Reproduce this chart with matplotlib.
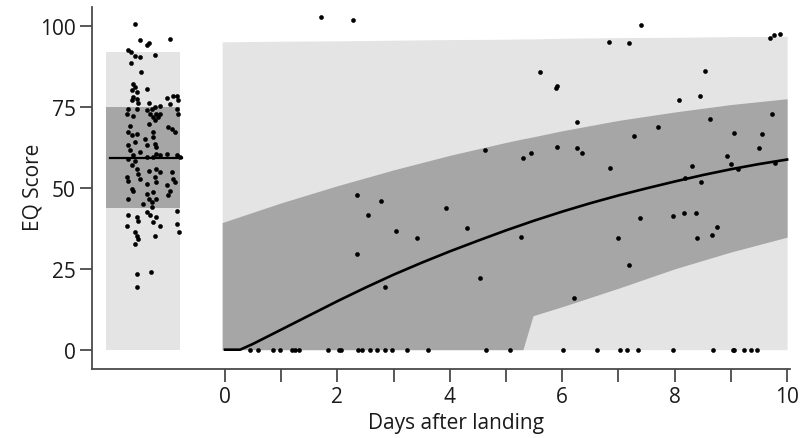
"""EQ score after landing: baseline strip plus fitted recovery curve."""
import matplotlib

matplotlib.use("Agg")
import matplotlib.pyplot as plt  # noqa: E402

plt.rcParams["font.family"] = ["Open Sans", "DejaVu Sans"]

# baseline (pre-flight) scores, jittered strip on the left
base_x = [-1.60, -1.51, -1.36, -1.39, -0.97, -1.72, -1.67, -1.60, -1.51, -1.25,
          -1.67, -1.50, -1.63, -1.60, -1.66, -1.57, -1.39, -1.63, -1.57, -1.66,
          -1.04, -0.92, -0.86, -1.54, -1.36, -1.16, -0.98, -0.83,
          -1.72, -1.75, -1.57, -1.63, -1.39, -1.30, -1.25, -1.33, -1.22, -1.28,
          -1.25, -1.36, -1.19, -1.16, -0.86, -0.83, -1.01, -0.95, -0.89, -1.69,
          -1.72, -1.66, -1.57, -1.60, -1.72, -1.69, -1.63, -1.28, -1.28, -1.25,
          -1.22, -1.42, -1.39, -1.51, -1.22, -1.16, -1.04, -0.86, -0.80, -1.39,
          -1.28, -1.72, -1.60, -1.66, -1.57, -1.54, -1.75, -1.72, -1.51, -1.36,
          -1.22, -1.16, -1.25, -1.22, -1.39, -0.95, -0.92, -0.89, -1.04, -0.98,
          -1.01, -1.66, -1.63, -1.72, -1.39, -1.28, -1.36, -1.30, -1.22, -1.45,
          -0.86, -1.39, -1.30, -1.57, -1.72, -1.33, -1.22, -1.75, -1.54, -1.28,
          -1.16, -0.86, -1.60, -1.57, -1.54, -1.60, -1.25, -0.82, -1.57, -1.32,
          -1.57]
base_y = [100.8, 95.7, 94.9, 94.1, 96.2, 92.6, 92.1, 90.8, 90.5, 91.2,
          88.8, 85.9, 82.3, 81.2, 80.2, 79.7, 80.7, 78.1, 77.6, 77.1,
          77.9, 78.6, 78.3, 76.4, 76.3, 75.5, 76.1, 77.1,
          74.5, 73.0, 74.5, 72.4, 74.0, 74.5, 75.0, 73.0, 73.0, 71.9,
          70.9, 69.9, 71.9, 73.0, 74.5, 73.0, 68.8, 68.3, 67.3, 69.3,
          67.3, 66.3, 66.8, 64.2, 63.2, 61.6, 60.1, 67.3, 65.8, 63.7,
          62.7, 65.2, 63.2, 61.1, 60.6, 60.1, 60.6, 60.1, 59.6, 59.6,
          59.6, 59.0, 58.5, 57.0, 55.9, 54.4, 53.4, 52.3, 52.9, 55.4,
          55.9, 54.9, 53.4, 51.8, 51.3, 54.9, 52.9, 51.8, 50.8, 49.2,
          47.7, 49.8, 49.2, 46.7, 48.2, 48.7, 46.7, 45.6, 46.7, 45.1,
          43.0, 42.5, 44.1, 41.0, 41.5, 41.5, 41.0, 38.4, 39.9, 39.4,
          38.4, 38.9, 36.3, 35.3, 34.3, 32.7, 35.3, 36.3, 23.4, 24.0,
          19.5]
base_box = (-2.11, -0.80)      # x extent of the baseline box
base_range = (0, 92.2)
base_iqr = (43.8, 75.0)
base_median = 59.3

# post-landing observations
day_x = [1.70, 2.27, 5.60, 5.89, 5.91, 6.26, 6.84, 7.18, 7.40, 7.70,
         7.28, 8.08, 8.45, 8.54, 8.63, 9.06, 9.56, 9.74, 9.70, 9.76,
         9.88, 5.90, 6.26, 9.50, 4.63, 2.35, 2.78, 2.55, 3.94, 3.04,
         3.41, 4.31, 2.34, 2.84, 4.54, 5.31, 5.44, 6.36, 6.85, 8.30,
         8.19, 8.47, 8.93, 9.00, 9.13, 9.79, 7.38, 7.97, 8.17, 8.38,
         8.76, 8.67, 8.40, 7.00, 5.27, 7.19, 6.20]
day_y = [102.9, 102.1, 85.9, 81.0, 81.6, 70.4, 95.2, 94.9, 100.3, 69.0,
         66.1, 77.1, 78.3, 86.1, 71.4, 67.0, 66.6, 73.0, 96.4, 97.4,
         97.7, 62.7, 62.5, 62.5, 61.6, 47.9, 46.1, 41.8, 43.9, 36.7,
         34.6, 37.7, 29.6, 19.5, 22.1, 59.3, 60.7, 60.8, 56.3, 56.7,
         53.2, 51.8, 59.8, 57.5, 55.9, 57.8, 40.8, 41.2, 42.3, 42.3,
         37.9, 35.6, 34.6, 34.6, 34.8, 26.2, 16.1]
zero_x = [0.44, 0.58, 0.86, 0.97, 1.19, 1.25, 1.31, 1.84, 2.02, 2.06,
          2.37, 2.43, 2.58, 2.70, 2.84, 2.97, 3.23, 3.62, 4.65, 5.07,
          6.01, 6.61, 7.03, 7.15, 7.35, 7.97, 8.69, 9.03, 9.06, 9.24,
          9.35, 9.46]

# prediction bands
band_x = [-0.05, 0, 1, 2, 3, 4, 5, 5.3, 5.48, 6, 7, 8, 9, 10]
outer_hi = [95.2, 95.2, 95.4, 95.5, 95.7, 95.9, 96.0, 96.1, 96.1, 96.3, 96.5, 96.6, 96.8, 96.9]
inner_hi = [39.3, 39.6, 45.4, 50.7, 55.6, 60.1, 64.1, 65.2, 65.8, 67.7, 70.9, 73.5, 75.8, 77.6]
inner_lo = [0, 0, 0, 0, 0, 0, 0, 0, 10.5, 13.3, 19.0, 25.0, 30.2, 34.8]

# fitted curve
fit_x = [0, 0.27, 0.5, 1, 1.5, 2, 2.5, 3, 3.5, 4, 4.5, 5, 5.5, 6, 6.5, 7,
         7.5, 8, 8.5, 9, 9.5, 10]
fit_y = [0, 0, 1.8, 6.2, 10.6, 15.0, 19.2, 23.2, 26.9, 30.4, 33.7, 36.9,
         39.9, 42.7, 45.3, 47.7, 49.9, 52.0, 54.0, 55.8, 57.4, 58.8]

LIGHT = "#e4e4e4"
DARK = "#a6a6a6"
SPINE = "#4a4a4a"
MS = 2.9

fig = plt.figure(figsize=(8, 4.39), dpi=100)
ax = fig.add_axes([0.1154, 0.157, 0.872, 0.825])

# baseline strip
ax.fill_between(base_box, *base_range, color=LIGHT, lw=0)
ax.fill_between(base_box, *base_iqr, color=DARK, lw=0)
ax.plot([-2.05, -0.77], [base_median] * 2, color="black", lw=1.6)
ax.plot(base_x, base_y, "o", color="black", ms=MS, mew=0.4)

# post-landing
ax.fill_between(band_x, 0, outer_hi, color=LIGHT, lw=0)
ax.fill_between(band_x, inner_lo, inner_hi, color=DARK, lw=0)
ax.plot(fit_x, fit_y, color="black", lw=1.9, solid_joinstyle="round")
ax.plot(day_x, day_y, "o", color="black", ms=MS, mew=0.4)
ax.plot(zero_x, [0] * len(zero_x), "o", color="black", ms=MS, mew=0.4)

ax.set_xlim(-2.36, 10.05)
ax.set_ylim(-6, 106)
ax.set_xticks(range(11))
ax.set_xticklabels([str(i) if i % 2 == 0 else "" for i in range(11)])
ax.set_yticks([0, 25, 50, 75, 100])
ax.set_xlabel("Days after landing", fontsize=15, color="#1a1a1a", va="top")
ax.set_ylabel("EQ Score", fontsize=15, color="#1a1a1a", va="center")
ax.xaxis.set_label_coords(0.521, -0.118)
ax.yaxis.set_label_coords(-0.085, 0.504)

for side in ("top", "right"):
    ax.spines[side].set_visible(False)
for side in ("left", "bottom"):
    ax.spines[side].set_color(SPINE)
    ax.spines[side].set_linewidth(1.3)
ax.tick_params(axis="both", colors=SPINE, width=1.3, length=9,
               labelsize=15, labelcolor="#1a1a1a")
ax.tick_params(axis="x", pad=3)
ax.tick_params(axis="y", pad=3)

fig.savefig("out.png", dpi=100)
plt.close(fig)
